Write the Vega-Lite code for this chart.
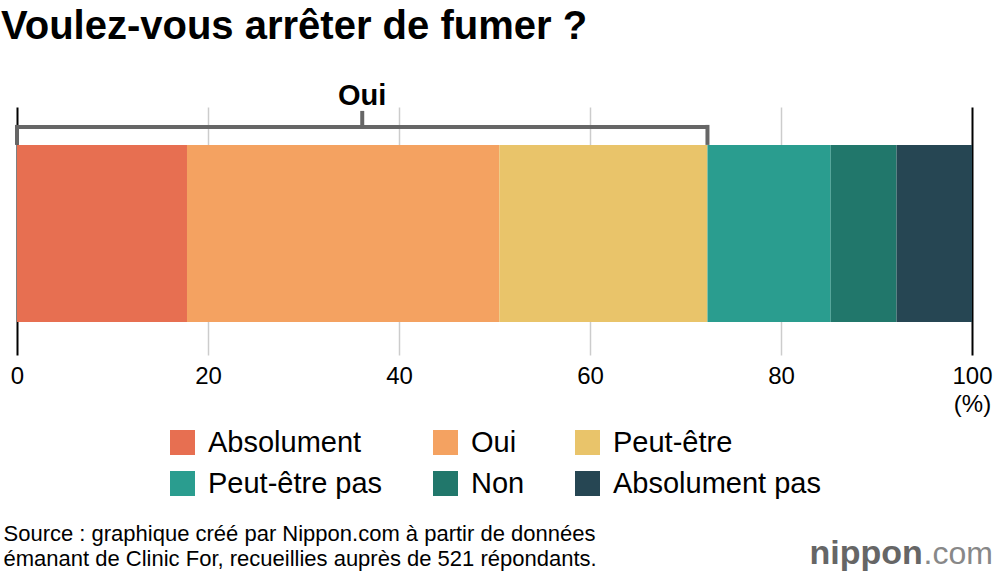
{
  "$schema": "https://vega.github.io/schema/vega-lite/v6.json",
  "width": 955,
  "height": 248,
  "autosize": {"type": "none"},
  "padding": {"left": 17, "top": 107, "right": 28, "bottom": 225},
  "background": "white",
  "config": {
    "view": {"stroke": null},
    "font": "Liberation Sans"
  },
  "title": {
    "text": "Voulez-vous arrêter de fumer ?",
    "anchor": "start",
    "frame": "group",
    "font": "Liberation Sans",
    "fontSize": 40,
    "fontWeight": "bold",
    "color": "#000000",
    "dx": -16,
    "offset": 35
  },
  "resolve": {"scale": {"y": "independent"}, "axis": {"y": "independent"}},
  "layer": [
    {
      "data": {
        "values": [
          {"question": "fumer", "reponse": "Absolument", "pct": 17.8, "ordre": 1},
          {"question": "fumer", "reponse": "Oui", "pct": 32.7, "ordre": 2},
          {"question": "fumer", "reponse": "Peut-être", "pct": 21.8, "ordre": 3},
          {"question": "fumer", "reponse": "Peut-être pas", "pct": 12.9, "ordre": 4},
          {"question": "fumer", "reponse": "Non", "pct": 6.9, "ordre": 5},
          {"question": "fumer", "reponse": "Absolument pas", "pct": 7.9, "ordre": 6}
        ]
      },
      "mark": {"type": "bar"},
      "encoding": {
        "y": {
          "field": "question",
          "type": "nominal",
          "scale": {"type": "band", "paddingInner": 0, "paddingOuter": 0.2, "align": 0.535},
          "axis": {
            "title": "nippon",
            "labels": false,
            "ticks": false,
            "domain": false,
            "grid": false,
            "titleAngle": 0,
            "titleX": 792,
            "titleY": 456,
            "titleAlign": "left",
            "titleBaseline": "alphabetic",
            "titleFont": "Liberation Sans",
            "titleFontSize": 34,
            "titleFontWeight": "bold",
            "titleColor": "#666666"
          }
        },
        "x": {
          "field": "pct",
          "type": "quantitative",
          "stack": "zero",
          "scale": {"domain": [0, 100], "nice": false},
          "axis": {
            "values": [0, 20, 40, 60, 80, 100],
            "grid": true,
            "gridColor": {"condition": {"test": "datum.value === 0 || datum.value === 100", "value": "#000000"}, "value": "#cccccc"},
            "gridWidth": {"condition": {"test": "datum.value === 0 || datum.value === 100", "value": 2}, "value": 1.5},
            "domain": false,
            "ticks": false,
            "labelFont": "Liberation Sans",
            "labelFontSize": 24,
            "labelColor": "#000000",
            "labelPadding": 9,
            "labelFlush": false,
            "labelOverlap": false,
            "labelLineHeight": 28,
            "labelExpr": "datum.value === 100 ? ['100', '(%)'] : datum.label",
            "title": ["Source : graphique créé par Nippon.com à partir de données", "émanant de Clinic For, recueillies auprès de 521 répondants."],
            "titleX": -14,
            "titleY": 185,
            "titleAlign": "left",
            "titleAnchor": "start",
            "titleBaseline": "alphabetic",
            "titleFont": "Liberation Sans",
            "titleFontSize": 22,
            "titleFontWeight": "normal",
            "titleColor": "#000000",
            "titleLineHeight": 25
          }
        },
        "color": {
          "field": "reponse",
          "type": "nominal",
          "scale": {
            "domain": ["Absolument", "Oui", "Peut-être", "Peut-être pas", "Non", "Absolument pas"],
            "range": ["#e76f51", "#f4a261", "#e9c46a", "#2a9d8f", "#21776b", "#264653"]
          },
          "legend": {
            "orient": "none",
            "legendX": 151,
            "legendY": 321,
            "direction": "horizontal",
            "columns": 3,
            "gridAlign": "none",
            "title": null,
            "padding": 0,
            "symbolType": "square",
            "symbolSize": 625,
            "symbolStrokeWidth": 0,
            "symbolOpacity": 1,
            "labelFont": "Liberation Sans",
            "labelFontSize": 29,
            "labelColor": "#000000",
            "labelOffset": 11,
            "labelLimit": 0,
            "columnPadding": 48,
            "rowPadding": 11
          }
        },
        "order": {"field": "ordre", "type": "quantitative"}
      }
    },
    {
      "data": {"values": [{"question": "fumer", "groupe": "Oui", "debut": 0, "fin": 72.3}]},
      "transform": [{"calculate": "(datum.debut + datum.fin) / 2", "as": "milieu"}],
      "encoding": {
        "y": {
          "field": "question",
          "type": "nominal",
          "bandPosition": 0,
          "scale": {"type": "band", "paddingInner": 0, "paddingOuter": 0.2, "align": 0.535},
          "axis": {
            "orient": "right",
            "title": ".com",
            "labels": false,
            "ticks": false,
            "domain": false,
            "grid": false,
            "titleAngle": 0,
            "titleX": -49,
            "titleY": 456,
            "titleAlign": "left",
            "titleBaseline": "alphabetic",
            "titleFont": "Liberation Sans",
            "titleFontSize": 32,
            "titleFontWeight": "normal",
            "titleColor": "#888888"
          }
        }
      },
      "layer": [
        {
          "mark": {"type": "rule", "color": "#666666", "strokeWidth": 4, "yOffset": -18},
          "encoding": {
            "x": {"field": "debut", "type": "quantitative"},
            "x2": {"field": "fin"}
          }
        },
        {
          "mark": {"type": "rule", "color": "#666666", "strokeWidth": 4, "yOffset": -20, "y2Offset": 0},
          "encoding": {
            "x": {"field": "debut", "type": "quantitative"},
            "y2": {"field": "question", "bandPosition": 0}
          }
        },
        {
          "mark": {"type": "rule", "color": "#666666", "strokeWidth": 4, "yOffset": -20, "y2Offset": 0},
          "encoding": {
            "x": {"field": "fin", "type": "quantitative"},
            "y2": {"field": "question", "bandPosition": 0}
          }
        },
        {
          "mark": {"type": "rule", "color": "#666666", "strokeWidth": 4, "yOffset": -34, "y2Offset": -18},
          "encoding": {
            "x": {"field": "milieu", "type": "quantitative"},
            "y2": {"field": "question", "bandPosition": 0}
          }
        },
        {
          "mark": {"type": "text", "font": "Liberation Sans", "fontSize": 29, "fontWeight": "bold", "color": "#000000", "baseline": "alphabetic", "align": "center", "yOffset": -40},
          "encoding": {
            "x": {"field": "milieu", "type": "quantitative"},
            "text": {"field": "groupe"}
          }
        }
      ]
    }
  ]
}
